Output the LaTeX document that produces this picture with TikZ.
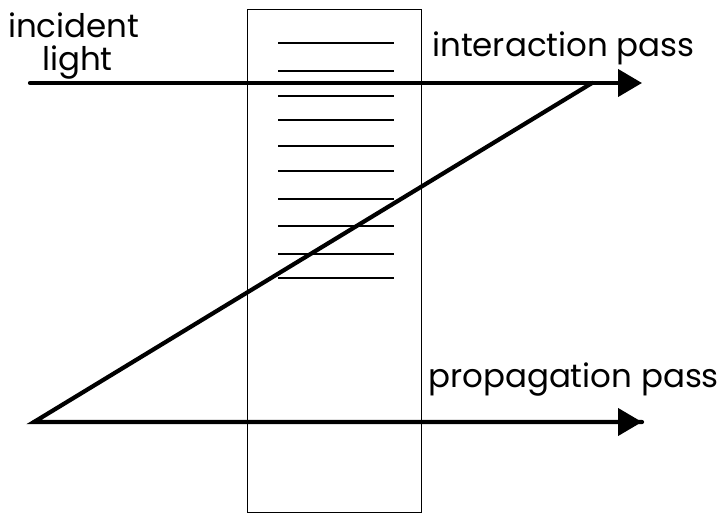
\documentclass[tikz,border=0pt]{standalone}
\usepackage{fontspec}
\setmainfont{Poppins}
\usetikzlibrary{arrows.meta}
\begin{document}
\begin{tikzpicture}[x=1pt,y=-1pt,
  lbl/.style={anchor=base west,inner sep=0pt,font=\fontsize{32.5}{36}\selectfont},
  beam/.style={line width=4.2pt,line cap=round,line join=miter},
  arr/.style={beam,-{Triangle[length=24pt,width=27pt]}},
  slab/.style={draw,line width=1.3pt},
  layer/.style={line width=1.2pt}]
\useasboundingbox (0,0) rectangle (728,518);
\node[slab,minimum width=174pt,minimum height=503pt,inner sep=0pt,anchor=north west] (slab) at (247,9) {};
\foreach \i/\yy in {1/43,2/71,3/96,4/120,5/146,6/171,7/199,8/226,9/254,10/278}{
  \coordinate (l\i a) at (278,\yy);
  \coordinate (l\i b) at (394,\yy);
  \draw[layer] (l\i a) -- (l\i b);
}
\coordinate (in) at (30,83);
\coordinate (turn) at (592,83);
\coordinate (top) at (642,83);
\coordinate (apex) at (34,422);
\coordinate (bot) at (642,422);
\draw[beam] (in) -- (turn);
\draw[arr] (turn) -- (top);
\draw[beam] (turn) -- (apex) -- (bot);
\draw[arr] (apex) -- (bot);
\node[lbl] (inc) at (8,38) {incident};
\node[lbl] (lig) at (42,71) {light};
\node[lbl] (ip) at (432,57) {interaction pass};
\node[lbl] (pp) at (428,388) {propagation pass};
\end{tikzpicture}
\end{document}
